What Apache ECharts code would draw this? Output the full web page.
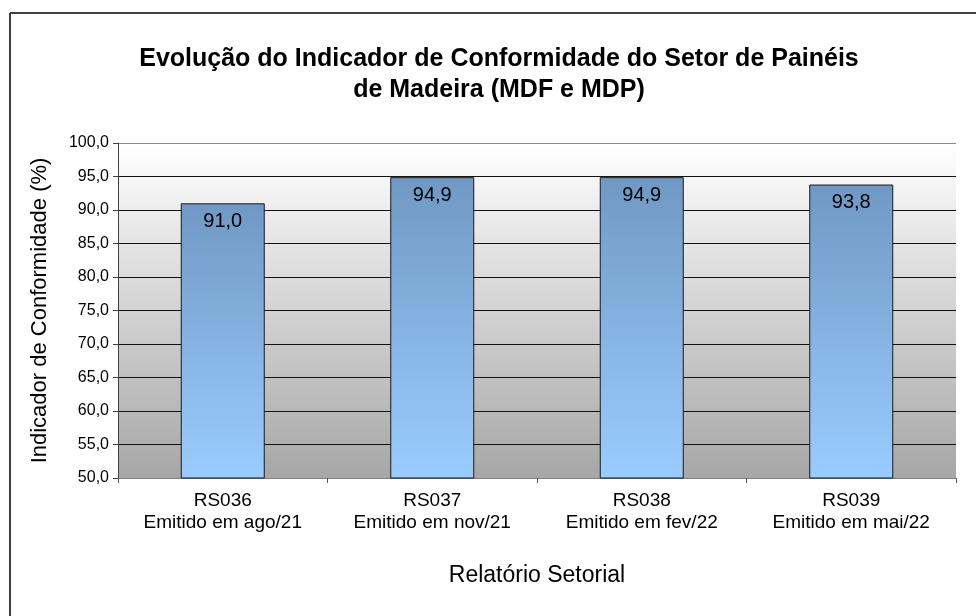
<!DOCTYPE html>
<html>
<head>
<meta charset="utf-8">
<script src="https://cdn.jsdelivr.net/npm/echarts@6/dist/echarts.min.js"></script>
<style>html,body{margin:0;padding:0;background:#fff}#c{width:976px;height:616px}</style>
</head>
<body>
<div id="c"></div>
<script>
var categories = ['RS036\nEmitido em ago/21', 'RS037\nEmitido em nov/21', 'RS038\nEmitido em fev/22', 'RS039\nEmitido em mai/22'];
var values = [91.0, 94.9, 94.9, 93.8];
var yMin = 50, yMax = 100, yStep = 5;

var chart = echarts.init(document.getElementById('c'), null, {renderer: 'canvas'});
var font = '"Liberation Sans", Arial, sans-serif';
var gridColors = [];
for (var i = 0; i <= (yMax - yMin) / yStep; i++) gridColors.push(i === (yMax - yMin) / yStep ? '#8a8a8a' : '#111');

chart.setOption({
  animation: false,
  textStyle: {fontFamily: font},
  title: {
    text: 'Evolução do Indicador de Conformidade do Setor de Painéis\nde Madeira (MDF e MDP)',
    left: 494, top: 39, textAlign: 'center',
    textStyle: {fontFamily: font, fontWeight: 'bold', fontSize: 25, lineHeight: 31, color: '#000'}
  },
  graphic: [
    {type: 'line', shape: {x1: 10, y1: 13, x2: 976, y2: 13}, style: {stroke: '#404040', lineWidth: 2}},
    {type: 'line', shape: {x1: 10, y1: 13, x2: 10, y2: 616}, style: {stroke: '#404040', lineWidth: 2}}
  ],
  grid: {
    left: 118, right: 20, top: 143, bottom: 138,
    show: true, borderWidth: 0,
    backgroundColor: new echarts.graphic.LinearGradient(0, 0, 0, 1, [
      {offset: 0, color: '#ffffff'}, {offset: 1, color: '#a6a6a6'}
    ])
  },
  xAxis: {
    type: 'category', data: categories,
    name: 'Relatório Setorial', nameLocation: 'middle', nameGap: 86,
    nameTextStyle: {fontFamily: font, fontSize: 23, color: '#000'},
    axisLine: {lineStyle: {color: '#808080', width: 1}},
    axisTick: {show: true, length: 5, lineStyle: {color: '#555'}},
    axisLabel: {fontFamily: font, fontSize: 19, color: '#000', lineHeight: 22, margin: 12}
  },
  yAxis: {
    type: 'value', min: yMin, max: yMax, interval: yStep,
    name: 'Indicador de Conformidade (%)', nameLocation: 'middle', nameGap: 67, nameRotate: 90,
    nameTextStyle: {fontFamily: font, fontSize: 22, color: '#000'},
    axisLine: {show: true, lineStyle: {color: '#404040', width: 1}},
    axisTick: {show: true, length: 5, lineStyle: {color: '#404040'}},
    axisLabel: {fontFamily: font, fontSize: 16, color: '#000', margin: 9,
      formatter: function (v) { return v.toFixed(1).replace('.', ','); }},
    splitLine: {show: true, lineStyle: {color: gridColors, width: 1}}
  },
  series: [{
    type: 'bar', data: values, barWidth: 84,
    itemStyle: {
      borderColor: '#1a1a1a', borderWidth: 1,
      color: new echarts.graphic.LinearGradient(0, 0, 0, 1, [
        {offset: 0, color: '#7098c4'}, {offset: 1, color: '#9accff'}
      ])
    },
    label: {
      show: true, position: 'insideTop', distance: 8,
      fontFamily: font, fontSize: 20, color: '#000',
      formatter: function (p) { return p.value.toFixed(1).replace('.', ','); }
    }
  }]
});
</script>
</body>
</html>
